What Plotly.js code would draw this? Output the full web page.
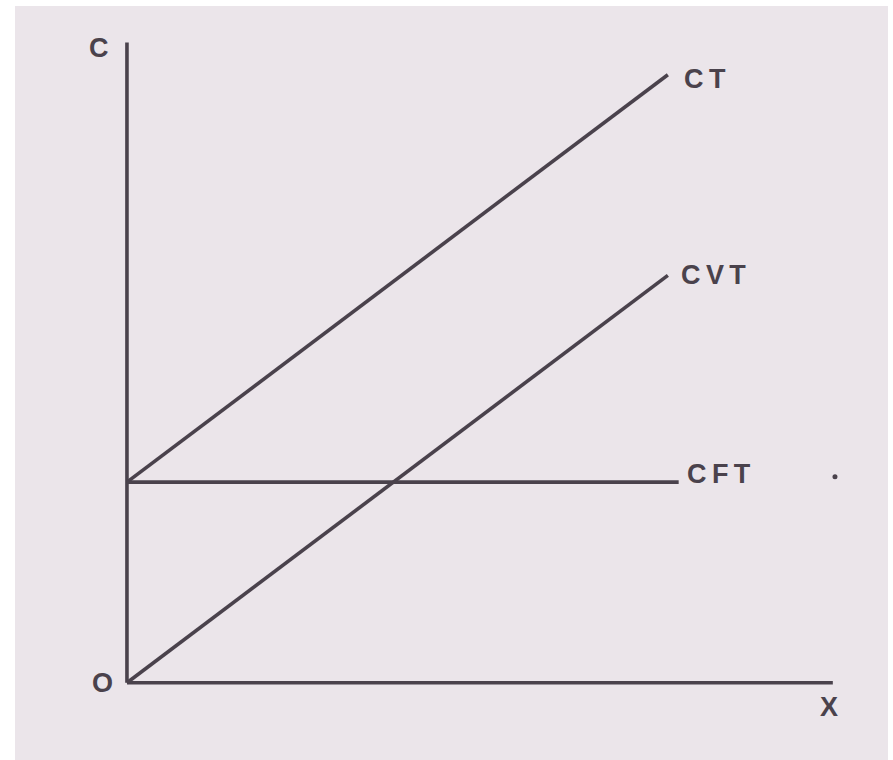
<!DOCTYPE html>
<html>
<head>
<meta charset="utf-8">
<script src="https://cdn.plot.ly/plotly-3.0.1.min.js"></script>
<style>
  html, body { margin: 0; padding: 0; background: #ffffff; }
  #chart { width: 893px; height: 760px; }
</style>
</head>
<body>
<div id="chart"></div>
<script>
// ---- Data ----
const axisX = [0, 130.5];          // horizontal axis (quantity X)
const axisXZero = [0, 0];
const axisYX = [0, 0];
const axisY = [0, 105.3];          // vertical axis (cost C)

const qVar = [0, 100];             // quantity range for CT and CVT
const totalCost = [33, 100];       // CT
const variableCost = [0, 67];      // CVT
const qFixed = [0, 102];           // quantity range for CFT
const fixedCost = [33, 33];        // CFT

const strayDotX = [130.9];
const strayDotY = [33.9];

const labelNames = ['C', 'O', 'X', 'C\u2009T', 'C\u2009V\u2009T', 'C\u2009F\u2009T'];
const labelX = [-5.1, -4.5, 129.8, 102.6, 102.1, 103.1];
const labelY = [104.4, 0, -4, 99.3, 67.1, 34.3];

// ---- Styles ----
const ink = '#4a424c';
const paperCol = '#ebe5ea';
const lw = 3.6;

function seg(x, y) {
  return { x: x, y: y, type: 'scatter', mode: 'lines',
           line: { color: ink, width: lw }, hoverinfo: 'skip', showlegend: false };
}

const traces = [
  seg(axisX, axisXZero),
  seg(axisYX, axisY),
  seg(qVar, totalCost),
  seg(qVar, variableCost),
  seg(qFixed, fixedCost),
  { x: strayDotX, y: strayDotY, type: 'scatter', mode: 'markers',
    marker: { color: ink, size: 5 }, hoverinfo: 'skip', showlegend: false }
];

const anchors = ['center', 'center', 'center', 'left', 'left', 'left'];
const annotations = labelNames.map((t, i) => ({
  x: labelX[i], y: labelY[i], xref: 'x', yref: 'y',
  text: '<b>' + t + '</b>', showarrow: false,
  xanchor: anchors[i], yanchor: 'middle',
  font: { family: 'Liberation Sans, Arial, sans-serif', size: 27, color: ink }
}));

const layout = {
  width: 893, height: 760,
  margin: { l: 15, r: 5, t: 6, b: 0 },
  paper_bgcolor: '#ffffff',
  plot_bgcolor: paperCol,
  xaxis: { range: [-20.7, 140.7], showgrid: false, zeroline: false,
           showticklabels: false, ticks: '', showline: false, fixedrange: true },
  yaxis: { range: [-12.7, 111.3], showgrid: false, zeroline: false,
           showticklabels: false, ticks: '', showline: false, fixedrange: true },
  annotations: annotations,
  showlegend: false
};

Plotly.newPlot('chart', traces, layout, { displayModeBar: false, staticPlot: true });
</script>
</body>
</html>
